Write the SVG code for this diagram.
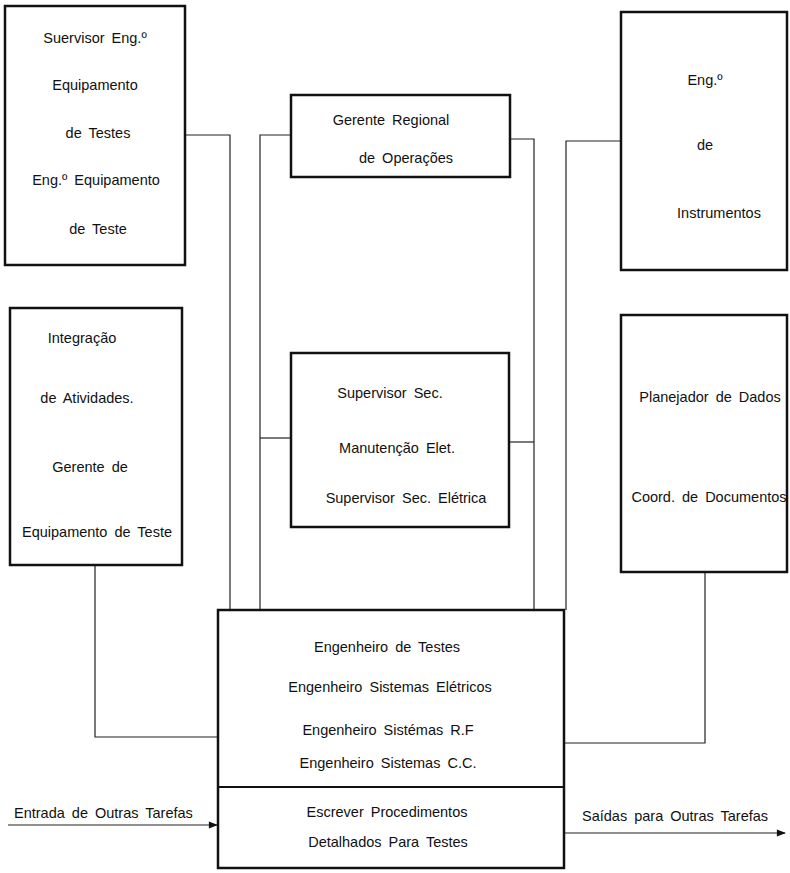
<svg xmlns="http://www.w3.org/2000/svg" width="790" height="873" viewBox="0 0 790 873">
<defs>
<style>
.box{fill:#fff;stroke:#111;stroke-width:2.5}
.ln{fill:none;stroke:#222;stroke-width:1.2}
text{font-family:"Liberation Sans",Arial,sans-serif;font-size:14.5px;word-spacing:3px;fill:#111;text-anchor:middle}
.l{text-anchor:start}
</style>
<marker id="ah" viewBox="0 0 10 10" refX="9" refY="5" markerWidth="12" markerHeight="9" markerUnits="userSpaceOnUse" orient="auto">
<path d="M0,1 L10,5 L0,9 Z" fill="#111"/>
</marker>
</defs>
<rect width="790" height="873" fill="#fff"/>
<g id="connectors">
<path class="ln" d="M185,135 H230 V610"/>
<path class="ln" d="M291,135 H260 V610"/>
<path class="ln" d="M291,438 H260"/>
<path class="ln" d="M510,139 H534 V610"/>
<path class="ln" d="M509,442 H534"/>
<path class="ln" d="M621,141 H566 V610"/>
<path class="ln" d="M95,565 V737 H218"/>
<path class="ln" d="M705,572 V743 H564"/>
<path class="ln" d="M8,825 H217" marker-end="url(#ah)"/>
<path class="ln" d="M564,833 H785" marker-end="url(#ah)"/>
<text class="l" x="14" y="818">Entrada de Outras Tarefas</text>
<text class="l" x="582" y="821">Saídas para Outras Tarefas</text>
</g>
<g id="n_supervisor_eng">
<rect class="box" x="5" y="6" width="180" height="259"/>
<text x="95" y="43">Suervisor Eng.º</text>
<text x="95" y="90">Equipamento</text>
<text x="98" y="138">de Testes</text>
<text x="96" y="185">Eng.º Equipamento</text>
<text x="98" y="234">de Teste</text>
</g>
<g id="n_gerente_regional">
<rect class="box" x="291" y="95" width="219" height="82"/>
<text x="391" y="125">Gerente Regional</text>
<text x="406" y="163">de Operações</text>
</g>
<g id="n_eng_instrumentos">
<rect class="box" x="621" y="12" width="166" height="258"/>
<text x="705" y="85">Eng.º</text>
<text x="705" y="150">de</text>
<text x="719" y="218">Instrumentos</text>
</g>
<g id="n_integracao">
<rect class="box" x="10" y="308" width="172" height="257"/>
<text x="82" y="343">Integração</text>
<text x="87" y="403">de Atividades.</text>
<text x="90" y="472">Gerente de</text>
<text x="97" y="537">Equipamento de Teste</text>
</g>
<g id="n_supervisor_sec">
<rect class="box" x="291" y="353" width="218" height="174"/>
<text x="390" y="398">Supervisor Sec.</text>
<text x="397" y="453">Manutenção Elet.</text>
<text x="406" y="503">Supervisor Sec. Elétrica</text>
</g>
<g id="n_planejador">
<rect class="box" x="621" y="315" width="166" height="257"/>
<text x="710" y="402">Planejador de Dados</text>
<text x="709" y="502">Coord. de Documentos</text>
</g>
<g id="n_engenheiros">
<rect class="box" x="218" y="610" width="346" height="258"/>
<line x1="218" y1="787" x2="564" y2="787" stroke="#111" stroke-width="2"/>
<text x="387" y="652">Engenheiro de Testes</text>
<text x="390" y="692">Engenheiro Sistemas Elétricos</text>
<text x="388" y="735">Engenheiro Sistémas R.F</text>
<text x="388" y="768">Engenheiro Sistemas C.C.</text>
<text x="387" y="817">Escrever Procedimentos</text>
<text x="388" y="847">Detalhados Para Testes</text>
</g>
</svg>
